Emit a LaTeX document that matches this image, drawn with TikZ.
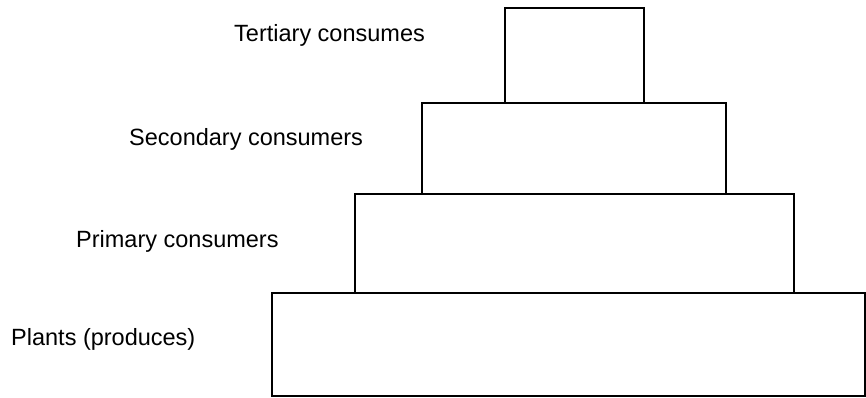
\documentclass[tikz,border=0pt]{standalone}
\usepackage{fontspec}
\setmainfont{Liberation Sans}
\usepackage{tikz}
\usetikzlibrary{positioning}

\begin{document}
\begin{tikzpicture}[x=1pt,y=1pt,
		level/.style={draw,line width=2.4pt},
		levellabel/.style={anchor=west,inner sep=0pt,font=\fontsize{23.5}{28}\selectfont}]
		\useasboundingbox (0,0) rectangle (866,398);
		% pyramid levels, bottom to top
		\draw[level] (272,2) rectangle (865,105);
		\draw[level] (355,105) rectangle (794,204);
		\draw[level] (422,204) rectangle (726,295);
		\draw[level] (505,295) rectangle (644,390);
		% labels
		\node[levellabel] (plants) at (11,59) {Plants (produces)};
		\node[levellabel] (primary) at (76,157) {Primary consumers};
		\node[levellabel] (secondary) at (129,259) {Secondary consumers};
		\node[levellabel] (tertiary) at (234,363) {Tertiary consumes};
		\end{tikzpicture}
\end{document}
